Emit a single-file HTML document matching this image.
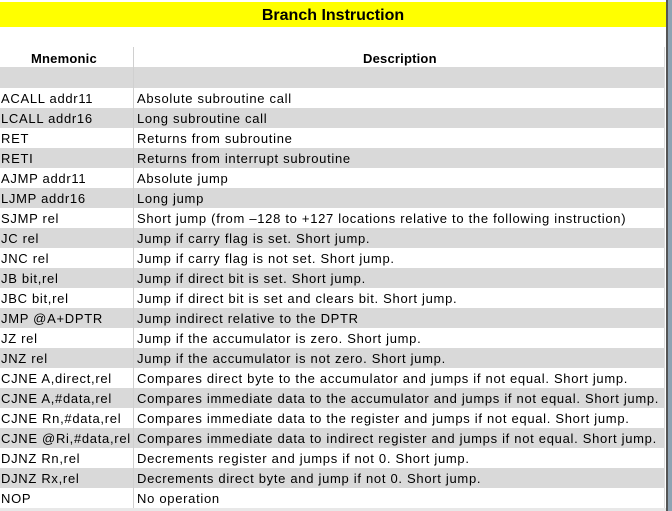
<!DOCTYPE html>
<html><head><style>
body{margin:0;width:672px;height:511px;background:#fff;position:relative;overflow:hidden;font-family:"Liberation Sans",sans-serif;}
.y{position:absolute;left:0;top:2px;width:666px;height:25px;background:#ffff00;font-weight:bold;font-size:16px;text-align:center;line-height:27px;}
.r{position:absolute;left:0;width:664px;height:20px;font-size:13px;letter-spacing:0.7px;line-height:21px;white-space:nowrap;}
.g{background:#d9d9d9}
.m{position:absolute;left:1px}
.d{position:absolute;left:137px}
.vl{position:absolute;left:133px;top:47px;width:1px;height:461px;background:#d0d0d0}
.rb{position:absolute;left:664px;top:47px;width:1px;height:461px;background:#ddd}
.edge{position:absolute;left:666px;top:0;width:2px;height:511px;background:#555}
.edge2{position:absolute;left:668px;top:0;width:4px;height:511px;background:#8fa3b3}
.bot{position:absolute;left:0;top:508px;width:666px;height:3px;background:#e8e8e8}
</style></head><body>
<div class="y">Branch Instruction</div>
<div class="r" style="top:48px;height:19px;font-weight:bold;font-size:13px;letter-spacing:0.2px"><span style="position:absolute;left:31px">Mnemonic</span><span style="position:absolute;left:363px">Description</span></div>
<div class="r g" style="top:67px;height:21px"></div>
<div class="r" style="top:88px"><span class="m">ACALL addr11</span><span class="d">Absolute subroutine call</span></div>
<div class="r g" style="top:108px"><span class="m">LCALL addr16</span><span class="d">Long subroutine call</span></div>
<div class="r" style="top:128px"><span class="m">RET</span><span class="d">Returns from subroutine</span></div>
<div class="r g" style="top:148px"><span class="m">RETI</span><span class="d">Returns from interrupt subroutine</span></div>
<div class="r" style="top:168px"><span class="m">AJMP addr11</span><span class="d">Absolute jump</span></div>
<div class="r g" style="top:188px"><span class="m">LJMP addr16</span><span class="d">Long jump</span></div>
<div class="r" style="top:208px"><span class="m">SJMP rel</span><span class="d">Short jump (from –128 to +127 locations relative to the following instruction)</span></div>
<div class="r g" style="top:228px"><span class="m">JC rel</span><span class="d">Jump if carry flag is set. Short jump.</span></div>
<div class="r" style="top:248px"><span class="m">JNC rel</span><span class="d">Jump if carry flag is not set. Short jump.</span></div>
<div class="r g" style="top:268px"><span class="m">JB bit,rel</span><span class="d">Jump if direct bit is set. Short jump.</span></div>
<div class="r" style="top:288px"><span class="m">JBC bit,rel</span><span class="d">Jump if direct bit is set and clears bit. Short jump.</span></div>
<div class="r g" style="top:308px"><span class="m">JMP @A+DPTR</span><span class="d">Jump indirect relative to the DPTR</span></div>
<div class="r" style="top:328px"><span class="m">JZ rel</span><span class="d">Jump if the accumulator is zero. Short jump.</span></div>
<div class="r g" style="top:348px"><span class="m">JNZ rel</span><span class="d">Jump if the accumulator is not zero. Short jump.</span></div>
<div class="r" style="top:368px"><span class="m">CJNE A,direct,rel</span><span class="d">Compares direct byte to the accumulator and jumps if not equal. Short jump.</span></div>
<div class="r g" style="top:388px"><span class="m">CJNE A,#data,rel</span><span class="d">Compares immediate data to the accumulator and jumps if not equal. Short jump.</span></div>
<div class="r" style="top:408px"><span class="m">CJNE Rn,#data,rel</span><span class="d">Compares immediate data to the register and jumps if not equal. Short jump.</span></div>
<div class="r g" style="top:428px"><span class="m">CJNE @Ri,#data,rel</span><span class="d">Compares immediate data to indirect register and jumps if not equal. Short jump.</span></div>
<div class="r" style="top:448px"><span class="m">DJNZ Rn,rel</span><span class="d">Decrements register and jumps if not 0. Short jump.</span></div>
<div class="r g" style="top:468px"><span class="m">DJNZ Rx,rel</span><span class="d">Decrements direct byte and jump if not 0. Short jump.</span></div>
<div class="r" style="top:488px"><span class="m">NOP</span><span class="d">No operation</span></div>
<div class="vl"></div><div class="rb"></div>
<div class="bot"></div><div class="edge"></div><div class="edge2"></div>
</body></html>
